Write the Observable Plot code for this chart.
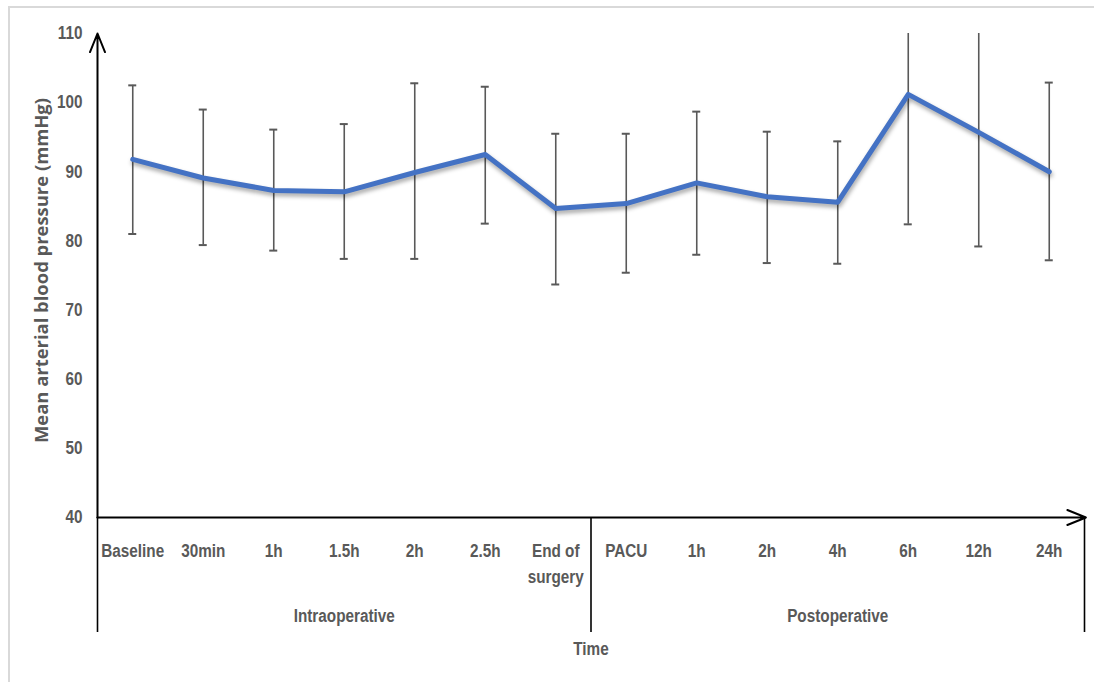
<!DOCTYPE html>
<html>
<head>
<meta charset="utf-8">
<script src="https://cdn.jsdelivr.net/npm/d3@7"></script>
<script src="https://cdn.jsdelivr.net/npm/@observablehq/plot@0.6"></script>
<style>
  html, body { margin: 0; padding: 0; background: #fff; }
  #wrap { position: relative; width: 1094px; height: 682px; overflow: hidden; }
  #border { position: absolute; left: 8px; top: 6px; right: -5px; bottom: -5px; border-top: 2px solid #d9d9d9; border-left: 2px solid #d9d9d9; }
  #chart { position: absolute; left: 0; top: 0; }
  g[aria-label="line"] path { filter: drop-shadow(1px 3px 2px rgba(0,0,0,0.35)); }
</style>
</head>
<body>
<div id="wrap"><div id="border"></div><div id="chart"></div></div>
<script>
// Time points (x categories)
const labels = ["Baseline", "30min", "1h", "1.5h", "2h", "2.5h", "End of\nsurgery",
                "PACU", "1h", "2h", "4h", "6h", "12h", "24h"];
// Mean arterial blood pressure (mmHg)
const meanMAP = [91.8, 89.1, 87.3, 87.1, 89.9, 92.5, 84.7, 85.4, 88.4, 86.4, 85.6, 101.2, 95.7, 90.0];
// Error bar ends (mean ± SD)
const upperMAP = [102.5, 99.0, 96.1, 96.9, 102.8, 102.3, 95.5, 95.5, 98.7, 95.8, 94.4, 120.0, 112.2, 102.9];
const lowerMAP = [81.0, 79.4, 78.6, 77.4, 77.4, 82.5, 73.7, 75.4, 78.0, 76.8, 76.7, 82.4, 79.2, 77.2];
// Y tick labels
const yTicks = [40, 50, 60, 70, 80, 90, 100, 110];
// Phase groups
const groupNames = ["Intraoperative", "Postoperative"];
const groupStart = [0, 7];
const groupEnd = [6, 13];
const yTitle = "Mean arterial blood pressure (mmHg)";

const data = labels.map((label, i) => ({i, label, mean: meanMAP[i], upper: upperMAP[i], lower: lowerMAP[i]}));
const groups = groupNames.map((name, k) => ({name, start: groupStart[k], end: groupEnd[k]}));
const xMin = -0.5, xMax = labels.length - 0.5;
const yMin = yTicks[0], yMax = yTicks[yTicks.length - 1];
const grey = "#595959";
const font = "'Liberation Sans', Arial, sans-serif";

const plot = Plot.plot({
  width: 1094,
  height: 682,
  marginLeft: 97,
  marginRight: 10,
  marginTop: 33,
  marginBottom: 165,
  style: {fontFamily: font, fontSize: "18px", color: grey, background: "transparent", overflow: "visible"},
  x: {type: "linear", domain: [xMin, xMax], axis: null},
  y: {type: "linear", domain: [yMin, yMax], axis: null},
  marks: [
    // error bars
    Plot.ruleX(data, {x: "i", y1: "lower", y2: "upper", stroke: grey, strokeWidth: 1.6, clip: true}),
    Plot.ruleY(data, {x1: "i", x2: "i", y: "upper", stroke: grey, strokeWidth: 2, insetLeft: -4, insetRight: -4, clip: true}),
    Plot.ruleY(data, {x1: "i", x2: "i", y: "lower", stroke: grey, strokeWidth: 2, insetLeft: -4, insetRight: -4, clip: true}),
    // mean line
    Plot.line(data, {x: "i", y: "mean", stroke: "#4472C4", strokeWidth: 5, strokeLinejoin: "round", strokeLinecap: "round"}),
    // axes with arrows
    Plot.arrow([0], {x1: xMin, y1: yMin, x2: xMin, y2: yMax, stroke: "#000", strokeWidth: 2, headLength: 15, headAngle: 44}),
    Plot.arrow([0], {x1: xMin, y1: yMin, x2: xMax + 0.02, y2: yMin, stroke: "#000", strokeWidth: 2, headLength: 15, headAngle: 44}),
    // lower extension lines (group separators)
    Plot.ruleX([xMin, groupEnd[0] + 0.5, xMax], {x: d => d, y1: yMin, y2: yMin, insetBottom: -115, stroke: "#000", strokeWidth: 1.6}),
    // y tick labels
    Plot.text(yTicks, {x: xMin, y: d => d, text: d => String(d), dx: -15, textAnchor: "end", fill: grey, fontWeight: "bold"}),
    // x tick labels
    Plot.text(data, {x: "i", y: yMin, text: "label", dy: 22, lineAnchor: "top", lineHeight: 1.4, fill: grey, fontWeight: "bold"}),
    // group labels
    Plot.text(groups, {x: d => (d.start + d.end) / 2, y: yMin, text: "name", dy: 99, fill: grey, fontWeight: "bold"}),
    // x axis title
    Plot.text(["Time"], {x: groupEnd[0] + 0.5, y: yMin, text: d => d, dy: 132, fill: grey, fontWeight: "bold"}),
    // y axis title
    Plot.text([yTitle], {frameAnchor: "left", textAnchor: "middle", text: d => d, rotate: -90, dx: -55, dy: -5,
      fill: grey, fontWeight: "bold", fontFamily: "'Open Sans', sans-serif", fontSize: 17})
  ]
});
document.getElementById("chart").appendChild(plot);

// Condense the Arial-like labels horizontally so they resemble the narrow original font
d3.select(plot).selectAll('g[aria-label="text"] text').each(function() {
  const t = d3.select(this);
  if (t.text() === yTitle) {
    t.attr("textLength", 345).attr("lengthAdjust", "spacingAndGlyphs");
    return;
  }
  const spans = t.selectAll("tspan");
  const targets = spans.empty() ? [this] : spans.nodes();
  for (const node of targets) {
    const len = node.getComputedTextLength();
    d3.select(node).attr("textLength", (len * 0.85).toFixed(1)).attr("lengthAdjust", "spacingAndGlyphs");
  }
});
</script>
</body>
</html>
